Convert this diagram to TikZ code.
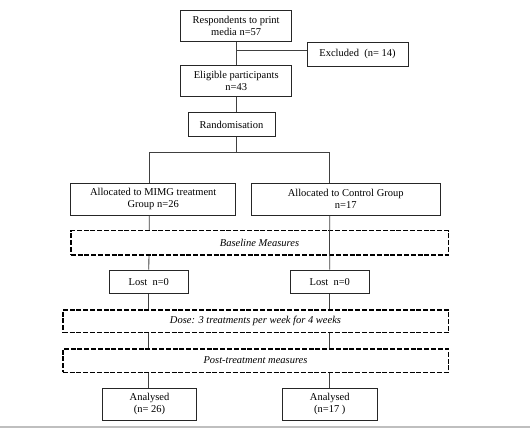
\documentclass[tikz,border=0pt]{standalone}
\usepackage{fontspec}
\setmainfont{Liberation Serif}
\begin{document}
\begin{tikzpicture}[x=1pt,y=-1pt,
  box/.style={draw=black!85,line width=0.8pt,inner sep=0pt,align=center,
    font=\fontsize{10.5}{12}\selectfont},
  dbox/.style={draw=black,line width=1.6pt,dash pattern=on 5pt off 1.8pt,
    fill=white,inner sep=0pt,align=center,font=\fontsize{10.5}{12}\selectfont\itshape},
  conn/.style={draw=black!75,line width=0.8pt}]
\useasboundingbox (0,0) rectangle (530,428);
\fill[white] (0,0) rectangle (530,428);
% nodes
\node[box,minimum width=111pt,minimum height=31pt] (resp) at (236.2,26.2) {Respondents to print\\media n=57};
\node[box,minimum width=101pt,minimum height=23.7pt] (excl) at (357.5,54.2) {Excluded\ \ (n= 14)};
\node[box,minimum width=111pt,minimum height=31pt] (elig) at (236.2,81.2) {Eligible participants\\n=43};
\node[box,minimum width=87pt,minimum height=24pt] (rand) at (231.5,124.7) {Randomisation};
\node[box,minimum width=165pt,minimum height=32pt] (mimg) at (153.2,199.3) {Allocated to MIMG treatment\\Group n=26};
\node[box,minimum width=188.7pt,minimum height=32pt] (ctrl) at (345.7,199.3) {Allocated to Control Group\\n=17};
\node[box,minimum width=79pt,minimum height=23.7pt] (lostL) at (148.8,281.8) {Lost\ \ n=0};
\node[box,minimum width=79pt,minimum height=23.7pt] (lostR) at (329.8,281.8) {Lost\ \ n=0};
\node[box,minimum width=94.4pt,minimum height=31.7pt] (anaL) at (149.5,404.2) {Analysed\\(n= 26)};
\node[box,minimum width=95pt,minimum height=31.7pt] (anaR) at (329.8,404.2) {Analysed\\(n=17 )};
% coordinates
\coordinate (split) at (236,152.3);
\coordinate (exj) at (236,50);
\coordinate (cL) at (149.3,152.3);
\coordinate (cR) at (329.7,152.3);
% connectors
\draw[conn] (resp.south -| split) -- (elig.north -| split);
\draw[conn] (exj) -- (exj -| excl.west);
\draw[conn] (elig.south -| split) -- (rand.north -| split);
\draw[conn] (rand.south -| split) -- (split);
\draw[conn] (cL) -- (cR);
\draw[conn] (cL) -- (cL |- mimg.north);
\draw[conn] (cR) -- (cR |- ctrl.north);
\draw[conn] (cL |- mimg.south) -- (lostL.north);
\draw[conn] (cR |- ctrl.south) -- (lostR.north);
\draw[conn] (lostL.south) -- (anaL.north -| lostL);
\draw[conn] (lostR.south) -- (anaR.north -| lostR);
% dashed boxes
\node[dbox,minimum width=377.6pt,minimum height=24.3pt] (base) at (259.5,242.8) {Baseline Measures};
\node[dbox,minimum width=385.6pt,minimum height=22.7pt] (dose) at (255.5,321.3) {Dose: 3 treatments per week for 4 weeks};
\node[dbox,minimum width=385.6pt,minimum height=23.6pt] (post) at (255.5,360.5) {Post-treatment measures};
\draw[conn] (cR |- base.north) -- (cR |- base.south);
% bottom rule
\draw[black!25,line width=1.5pt] (0,427) -- (530,427);
\end{tikzpicture}
\end{document}
